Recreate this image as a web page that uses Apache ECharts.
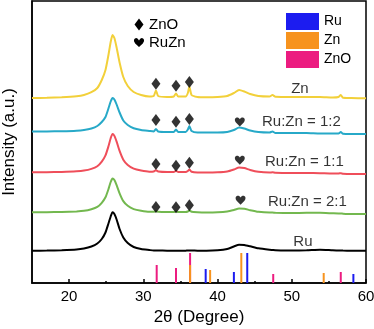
<!DOCTYPE html>
<html>
<head>
<meta charset="utf-8">
<script src="https://cdn.jsdelivr.net/npm/echarts@6/dist/echarts.min.js"></script>
<style>
  html, body { margin: 0; padding: 0; background: #fff; }
  #chart { width: 374px; height: 329px; }
</style>
</head>
<body>
<div id="chart"></div>
<script>
// 2θ sample positions shared by all patterns
var twoTheta = [15, 17, 19, 21, 22, 23, 23.8, 24.4, 24.9, 25.3, 25.6, 25.85, 26.1, 26.4, 26.8, 27.3, 27.9, 28.7, 29.7, 30.8,
  31.4, 31.7, 32.0, 33.2, 34.1, 34.4, 34.7, 35.7, 36.0, 36.2, 36.5, 37.3, 38.5, 40.0, 41.3, 42.2, 42.9, 43.6, 44.4, 45.5,
  47.0, 47.4, 47.8, 50.0, 52.0, 53.8, 55.5, 56.3, 56.6, 56.9, 58.0, 60.0];

// intensities (a.u., curves stacked with offsets as in the figure)
var znCurve = [185, 185.2, 185.8, 186.8, 188, 190.8, 195, 203, 213, 228, 241, 248, 245, 235.5, 220.5, 206, 197, 191, 188, 186.5,
  187, 192.5, 187, 186, 186.5, 189.5, 186.5, 186.5, 190, 196.5, 188, 186, 185.7, 186, 187, 190, 193, 191.5, 189, 187,
  186.5, 188, 186.2, 186, 186, 186, 185.5, 186, 188, 185.2, 185, 184.7];
var ruZn12 = [151.5, 151.6, 151.8, 152.3, 153, 154.5, 157, 161, 166, 174.5, 181.5, 185, 183.5, 178.5, 170.5, 162.5, 158, 154.7, 153, 152,
  151.5, 154, 151.5, 151, 151, 153.5, 151, 151, 153.5, 157, 152, 150.5, 150.5, 150.5, 151, 153, 155.5, 154.5, 152.5, 151,
  150.5, 151.5, 150, 150, 150, 149.5, 149.5, 149.5, 151, 149.2, 149, 149];
var ruZn11 = [110.7, 110.8, 111.1, 111.7, 112.4, 114.1, 116.8, 121.4, 127.6, 136.7, 144.8, 149, 147.1, 141.3, 132.1, 123.3, 118, 114.3, 112.4, 111.3,
  111.5, 112.7, 111.5, 111, 111, 112, 111, 111, 112, 113.5, 111.2, 110.5, 110.5, 110.7, 111.5, 113.5, 115.5, 115, 113, 111.2,
  110.5, 110.7, 110.2, 110, 110, 109.8, 109.5, 109.5, 109.8, 109.3, 109, 109];
var ruZn21 = [70.7, 70.8, 71, 71.6, 72.2, 73.8, 76.1, 80.2, 85.7, 93.8, 101, 104.5, 103, 97.9, 89.7, 81.9, 77.2, 73.9, 72.2, 71.2,
  71.2, 71.8, 71.2, 71, 71, 71.5, 71, 71, 71.5, 72.5, 71.2, 70.7, 70.5, 70.7, 71.5, 73, 74.5, 74.3, 72.8, 71.2,
  70.5, 70.5, 70.2, 70, 70.2, 70.2, 69.7, 69.5, 69.5, 69.3, 69, 69];
var ruCurve = [32.2, 32.4, 32.8, 33.5, 34.5, 36.5, 39.5, 44, 50.5, 59.5, 66.5, 70.7, 69, 63.5, 54, 45.5, 40, 36, 34, 33,
  32.5, 32.5, 32.5, 32.3, 32.3, 32.3, 32.3, 32.3, 32.5, 32.5, 32.5, 32.3, 32.3, 32.7, 34, 36.5, 38.3, 38, 36.7, 34.7,
  33.2, 33, 32.8, 32.5, 32.7, 33.3, 32.7, 32.5, 32.5, 32.4, 32.3, 32.2];

// reference stick patterns [2θ, height]
var refZnO = [[31.8, 18], [34.4, 15], [36.3, 30], [47.5, 9], [56.6, 11]];
var refZn = [[36.3, 18], [39.0, 13], [43.2, 30], [54.3, 10]];
var refRu = [[38.4, 14], [42.2, 11], [44.0, 30], [58.3, 9]];

// peak markers
var znoMarks = [[31.7, 199.3], [34.4, 197.3], [36.2, 201], [31.7, 163], [34.4, 161.3], [36.2, 164],
  [31.7, 119], [34.4, 117.3], [36.2, 120.3], [31.7, 76], [34.4, 75.7], [36.2, 77.7]];
var ruZnMarks = [[43.0, 161], [43.0, 122.7], [43.1, 82.7]];

// curve names
var curveLabels = ['Zn', 'Ru:Zn = 1:2', 'Ru:Zn = 1:1', 'Ru:Zn = 2:1', 'Ru'];
var curveLabelPos = [[51.1, 194], [51.3, 161], [51.7, 121], [52.1, 81], [51.5, 41]];

var FONT = '"Liberation Sans", Arial, sans-serif';
var HEART = 'path://M12,21 L3.5,12.5 C0,9 0.5,3.5 5,2.5 C8,2 10.5,3.5 12,6 C13.5,3.5 16,2 19,2.5 C23.5,3.5 24,9 20.5,12.5 Z';

function pairs(ys) {
  return twoTheta.map(function (x, i) { return [x, ys[i]]; });
}

function curve(name, ys, color) {
  return {
    name: name, type: 'line', data: pairs(ys), showSymbol: false, smooth: 0.2,
    lineStyle: { color: color, width: 2 }, itemStyle: { color: color }, z: 3
  };
}

function sticks(name, data, color) {
  return {
    name: name, type: 'bar', data: data, barWidth: 2, barGap: '-100%',
    itemStyle: { color: color }, z: 2
  };
}

// small key for the peak symbols (top middle)
var keyText = { fontSize: 15, fill: '#000', fontFamily: FONT, verticalAlign: 'middle' };
var peakKey = {
  type: 'group', left: 134, top: 17,
  children: [
    { type: 'polygon', x: 5, y: 7, shape: { points: [[0, -6], [4.5, 0], [0, 6], [-4.5, 0]] }, style: { fill: '#000' } },
    { type: 'text', x: 15, y: 7, style: Object.assign({ text: 'ZnO' }, keyText) },
    {
      type: 'polygon', x: 5, y: 25,
      shape: { points: [[0, -2], [1.2, -3.7], [2.7, -4.4], [4.1, -4], [5, -2.8], [5, -1.2], [3.8, 0.9], [0, 4.5],
        [-3.8, 0.9], [-5, -1.2], [-5, -2.8], [-4.1, -4], [-2.7, -4.4], [-1.2, -3.7]] },
      style: { fill: '#000' }
    },
    { type: 'text', x: 15, y: 25, style: Object.assign({ text: 'RuZn' }, keyText) }
  ]
};

var myChart = echarts.init(document.getElementById('chart'));
myChart.setOption({
  animation: false,
  textStyle: { fontFamily: FONT },
  grid: {
    left: 32, right: 8, top: 1, bottom: 46, outerBoundsMode: 'none',
    show: true, borderColor: '#000', borderWidth: 1.5
  },
  graphic: [peakKey],
  legend: {
    data: ['Ru', 'Zn', 'ZnO'], orient: 'vertical', left: 281, top: 8,
    icon: 'rect', itemWidth: 33, itemHeight: 17, itemGap: 2, selectedMode: false,
    textStyle: { fontSize: 14, color: '#000', fontFamily: FONT }
  },
  xAxis: [
    {
      type: 'value', min: 15, max: 60,
      name: '2θ (Degree)', nameLocation: 'middle', nameGap: 26,
      nameTextStyle: { fontSize: 17, color: '#000', fontFamily: FONT },
      axisLine: { lineStyle: { color: '#000', width: 1.5 } },
      axisTick: { inside: true, length: 4, customValues: [20, 30, 40, 50, 60], lineStyle: { color: '#000', width: 1.5 } },
      axisLabel: { customValues: [20, 30, 40, 50, 60], fontSize: 15, color: '#000', margin: 6, fontFamily: FONT },
      splitLine: { show: false }
    },
    {
      type: 'value', min: 15, max: 60, position: 'bottom',
      axisLine: { show: false },
      axisTick: { inside: true, length: 2, customValues: [25, 35, 45, 55], lineStyle: { color: '#000', width: 1.5 } },
      axisLabel: { show: false },
      splitLine: { show: false }
    }
  ],
  yAxis: {
    type: 'value', min: 0, max: 282,
    name: 'Intensity (a.u.)', nameLocation: 'middle', nameGap: 14,
    nameTextStyle: { fontSize: 17, color: '#000', fontFamily: FONT },
    axisLine: { show: true, lineStyle: { color: '#000', width: 1.5 } },
    axisTick: { show: false },
    axisLabel: { show: false },
    splitLine: { show: false }
  },
  series: [
    sticks('ZnO', refZnO, '#ec1c80'),
    sticks('Zn', refZn, '#f7931e'),
    sticks('Ru', refRu, '#1c1cf0'),
    curve('Zn curve', znCurve, '#f2d03a'),
    curve('1:2 curve', ruZn12, '#27a9c8'),
    curve('1:1 curve', ruZn11, '#ef4e5a'),
    curve('2:1 curve', ruZn21, '#73b84f'),
    curve('Ru curve', ruCurve, '#000000'),
    {
      name: 'ZnO peaks', type: 'scatter', data: znoMarks, symbol: 'diamond', symbolSize: [9, 12],
      itemStyle: { color: '#000' }, z: 4
    },
    {
      name: 'RuZn peaks', type: 'scatter', data: ruZnMarks, symbol: HEART, symbolSize: [10, 9],
      itemStyle: { color: '#000' }, z: 4
    },
    {
      name: 'names', type: 'scatter', symbolSize: 1, itemStyle: { color: 'transparent' }, z: 5,
      data: curveLabels.map(function (t, i) { return { name: t, value: curveLabelPos[i] }; }),
      label: {
        show: true, position: 'inside', formatter: '{b}',
        fontSize: 15, color: '#000', fontFamily: FONT
      }
    }
  ]
});
</script>
</body>
</html>
